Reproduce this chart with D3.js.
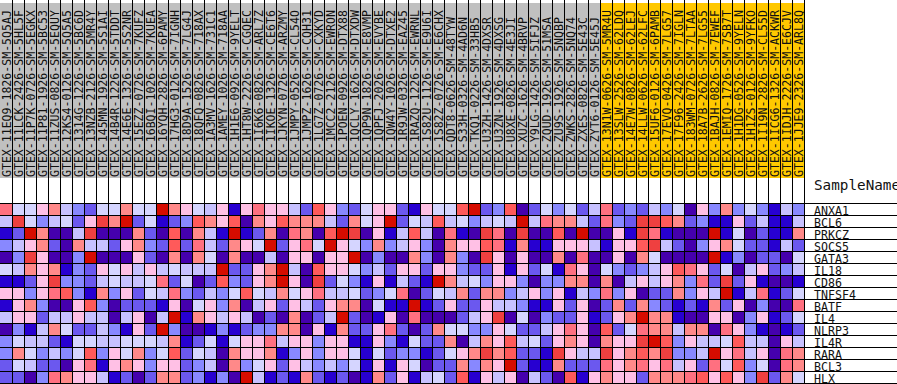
<!DOCTYPE html>
<html><head><meta charset="utf-8">
<script src="https://d3js.org/d3.v7.min.js"></script>
<style>html,body{margin:0;padding:0;background:#fff;overflow:hidden}svg{display:block}text{font-family:"DejaVu Sans Mono",monospace;fill:#111}</style>
</head><body><svg id="c" width="897" height="384"></svg>
<script>
const referenceSamples = ["GTEX-11EQ9-1826-SM-5Q5AJ","GTEX-11LCK-2426-SM-5HL5F","GTEX-11P7K-0726-SM-5EGKX","GTEX-11P81-1926-SM-5BC53","GTEX-11ZUS-0826-SM-5EQUY","GTEX-12KS4-0126-SM-5Q5A5","GTEX-1314G-1226-SM-5BC6D","GTEX-13NZB-2126-SM-5MR4Y","GTEX-145MN-1926-SM-5S1AI","GTEX-14B4R-1226-SM-5TDDT","GTEX-14E6E-1326-SM-5S2NR","GTEX-15EZZ-0726-SM-7KUFZ","GTEX-16BQI-1026-SM-7KUEA","GTEX-16YQH-2826-SM-6PAMY","GTEX-17HG3-0126-SM-7IGNH","GTEX-18D9A-1526-SM-7LG4J","GTEX-18QFQ-0826-SM-718AX","GTEX-1A3MV-1626-SM-731C1","GTEX-1AMEY-1026-SM-718AA","GTEX-1H1E6-0926-SM-9YELT","GTEX-1HT8W-2226-SM-CGQEC","GTEX-1I6K6-0826-SM-ARL7Z","GTEX-1IKOE-1326-SM-CE6T6","GTEX-1JKYN-0726-SM-ARZMY","GTEX-1JMPY-0526-SM-CL54O","GTEX-1JMPZ-1626-SM-CQH31","GTEX-1LG7Z-0726-SM-CXKYD","GTEX-1MCC2-2126-SM-EWRON","GTEX-1POEN-0926-SM-DTX88","GTEX-1QCLY-1626-SM-DTXDW","GTEX-1QP9N-1826-SM-E8VMP","GTEX-1QPFJ-2026-SM-EVYBE","GTEX-1QW4Y-1026-SM-DTXE2","GTEX-1R9JW-0326-SM-EAZ45","GTEX-1RAZQ-1226-SM-EWRNL","GTEX-1S82U-1126-SM-E9U6I","GTEX-1S82Z-0726-SM-E6CHX","GTEX-QDT8-0626-SM-48TYW","GTEX-S33H-0326-SM-4AD6N","GTEX-TKQ1-0226-SM-33HB5","GTEX-U3ZH-1426-SM-4DXSR","GTEX-U3ZN-1926-SM-4DXSG","GTEX-U8XE-0826-SM-4E3JI","GTEX-XUZC-1626-SM-4BRVP","GTEX-Y9LG-1426-SM-5IFJZ","GTEX-ZQUD-1926-SM-51MSA","GTEX-ZU9S-1926-SM-5NQBP","GTEX-ZWKS-2826-SM-5NQ74","GTEX-ZXES-0826-SM-5E43C","GTEX-ZYT6-0126-SM-5E45J"];
const querySamples = ["GTEX-13N1W-0626-SM-5MR4U","GTEX-13SLW-2526-SM-62LDQ","GTEX-14E7W-0826-SM-62LEJ","GTEX-14LLW-0626-SM-62LFC","GTEX-15UF6-0126-SM-6PAMB","GTEX-17EVQ-0426-SM-7LG57","GTEX-17F96-2426-SM-7IGLN","GTEX-183WM-0726-SM-7LTAA","GTEX-18A7B-2626-SM-7LG55","GTEX-1BAJH-0826-SM-7EWEF","GTEX-1EMIQ-1726-SM-7SB7T","GTEX-1H1DG-0526-SM-9YELN","GTEX-1H1ZS-0126-SM-9YFKO","GTEX-1I19N-2826-SM-CL55D","GTEX-1ICG6-1326-SM-ACKWR","GTEX-1IDJH-2226-SM-E6CJV","GTEX-1JJE9-2326-SM-ARL8Q"];
const genes = ["ANXA1","BCL6","PRKCZ","SOCS5","GATA3","IL18","CD86","TNFSF4","BATF","IL4","NLRP3","IL4R","RARA","BCL3","HLX"];
// expression level of each cell, coded A (lowest) .. L (highest)
const levelCodes = ["A","B","C","D","E","F","G","H","I","J","K","L"];
const levelColors = ["#4500AD","#2700D1","#6B58EF","#8888FF","#C7C1FF","#D5D5FF","#FFC0E5","#FF8989","#FF7080","#FF5A5A","#EF4040","#D60C00"];
const ANXA1  = "IFFGHEDCFFHFF"+"LHGFEGBGIGGE"+"CJGDCFGGCBGF"+"F"+"JLCDJACFDFCE"+"ICDCEDFAGDHD"+"FDBED";
const BCL6   = "EKFDEFCGKHLCF"+"BCDJHGJAHGJH"+"HHECHFGLCFEJ"+"E"+"FDEFELEIHHEC"+"IDCKKJHCDBBG"+"CEBBE";
const PRKCZ  = "BCLHAAEKAAAHC"+"AJAHEBLBCHAI"+"HAJLKAGBEJEA"+"I"+"BAKIAKAAJALA"+"AGBKIBAAALBF"+"ACBBH";
const SOCS5  = "DEGHCAHEECGHD"+"CJCIECHGFLCG"+"IFLGFDHDEGDA"+"H"+"GGJIBHBBGGGE"+"BGGJKECADGHF"+"CCBEC";
const GATA3  = "ADKGAADLAAAGC"+"AHAHFAHAAEAG"+"GAGGLADAAHDA"+"H"+"DAKGAGAAHAIA"+"AGAHFAAAALBD"+"ACCAF";
const IL18   = "FEHGHBDCGFGEG"+"EFEEELCCGHLE"+"AJGGFDECGGCG"+"G"+"DCCGBGCFBIGA"+"FDCDEGJIGCFA"+"EGCDE";
const CD86   = "BBCGKDDCEFEEF"+"ICFACJDCGHLG"+"AKCFDBGBECBL"+"H"+"EFDGGDADDHHA"+"HAEGEGHDICKC"+"GBAAB";
const TNFSF4 = "GGDGIJDBHDGCF"+"EIDCEDFJFEHF"+"GIEEFCDFIACF"+"E"+"HCHHDEGDGBED"+"IDGACCHDGELB"+"EIBCF";
const BATF   = "BGHDAAGJDACCC"+"BGAFGDHAEGCG"+"ECGHHAFBBLBC"+"G"+"CCGEEDBBGCGA"+"CHCHDCBCBHCG"+"ADAAI";
const IL4    = "EGGCEEGEEAEGA"+"ELBHGEGEACAH"+"ACELCABGAIAA"+"A"+"CEGKAFADCCGB"+"CGHLHHBAAGGA"+"DGBCF";
const NLRP3  = "ADBEHFCCEDBGC"+"LDAABDBCDDHH"+"AGBHCCGICACH"+"F"+"FDDGFCCEGIGA"+"JCFIHHEHHAIG"+"DBABC";
const IL4R   = "DFEECBFFEEFFF"+"EHBCFBFGGIEG"+"GDGGBBGDBFCC"+"H"+"AEHGJEFCGHGA"+"HGGKLJDGEEFJ"+"EEAGE";
const RARA   = "DHFDEDFJDGFHD"+"FJCFEAHGGHBD"+"GDGGFBFCDDBC"+"F"+"GHKHJCCBKGEE"+"KGHJHKDDELGI"+"EGAIH";
const BCL3   = "CFECCAGIBGHGD"+"GGCDEAHDFGCG"+"EDEDFBGBGFAC"+"C"+"HDHGLCBBHCCC"+"IGHIGIEGCIFJ"+"DFAIH";
const HLX    = "CCADIHGGEBCAC"+"HHCDBDALEBCB"+"HCBCABHCGBEF"+"C"+"JBGEGAECAJBG"+"HGGCHHHIJGJG"+"DKCHF";
const rows = [ANXA1,BCL6,PRKCZ,SOCS5,GATA3,IL18,CD86,TNFSF4,BATF,IL4,NLRP3,IL4R,RARA,BCL3,HLX];
const samples = referenceSamples.concat(querySamples);

const cellSize = 12, left = 0, top_ = 203, headerTop = 3, headerBottom = 178;
const x = d3.scaleBand().domain(samples).range([left, left + samples.length*cellSize]);
const y = d3.scaleBand().domain(genes).range([top_, top_ + genes.length*cellSize]);
const color = d3.scaleOrdinal().domain(levelCodes).range(levelColors);
const svg = d3.select("#c");

// header bands
svg.append("g").selectAll("rect").data(samples).join("rect")
  .attr("x", d=>x(d)).attr("y", headerTop).attr("width", x.bandwidth()).attr("height", headerBottom-headerTop)
  .attr("fill", d=>querySamples.includes(d) ? "#FFC800" : "#C0C0C0");

// cells
const cells = rows.flatMap((r,i)=>Array.from(r,(c,j)=>({gene:genes[i],sample:samples[j],code:c})));
svg.append("g").attr("shape-rendering","crispEdges").selectAll("rect").data(cells).join("rect")
  .attr("x", d=>x(d.sample)).attr("y", d=>y(d.gene)).attr("width", x.bandwidth()).attr("height", y.bandwidth())
  .attr("fill", d=>color(d.code));

// sample labels
svg.append("g").selectAll("text").data(samples).join("text")
  .attr("transform", d=>`translate(${x(d)+11},${headerBottom-1}) rotate(-90)`)
  .attr("font-size", 11.55).text(d=>d);

// grid
const grid = svg.append("g").attr("stroke","#000").attr("stroke-width",1).attr("shape-rendering","crispEdges");
grid.selectAll("line.v").data(samples).join("line").attr("class","v")
  .attr("x1",d=>x(d)+cellSize+0.5).attr("x2",d=>x(d)+cellSize+0.5).attr("y1",0).attr("y2",384);
grid.selectAll("line.h").data(genes.concat(["_end"])).join("line").attr("class","h")
  .attr("x1",0).attr("x2",897)
  .attr("y1",(d,i)=>top_+i*cellSize+0.5).attr("y2",(d,i)=>top_+i*cellSize+0.5);

// row labels
svg.append("g").selectAll("text").data(genes).join("text")
  .attr("x",814).attr("y",d=>y(d)+12).attr("font-size",11.6).text(d=>d);
svg.append("text").attr("x",814).attr("y",190).attr("font-size",14.3).text("SampleName");
</script></body></html>
